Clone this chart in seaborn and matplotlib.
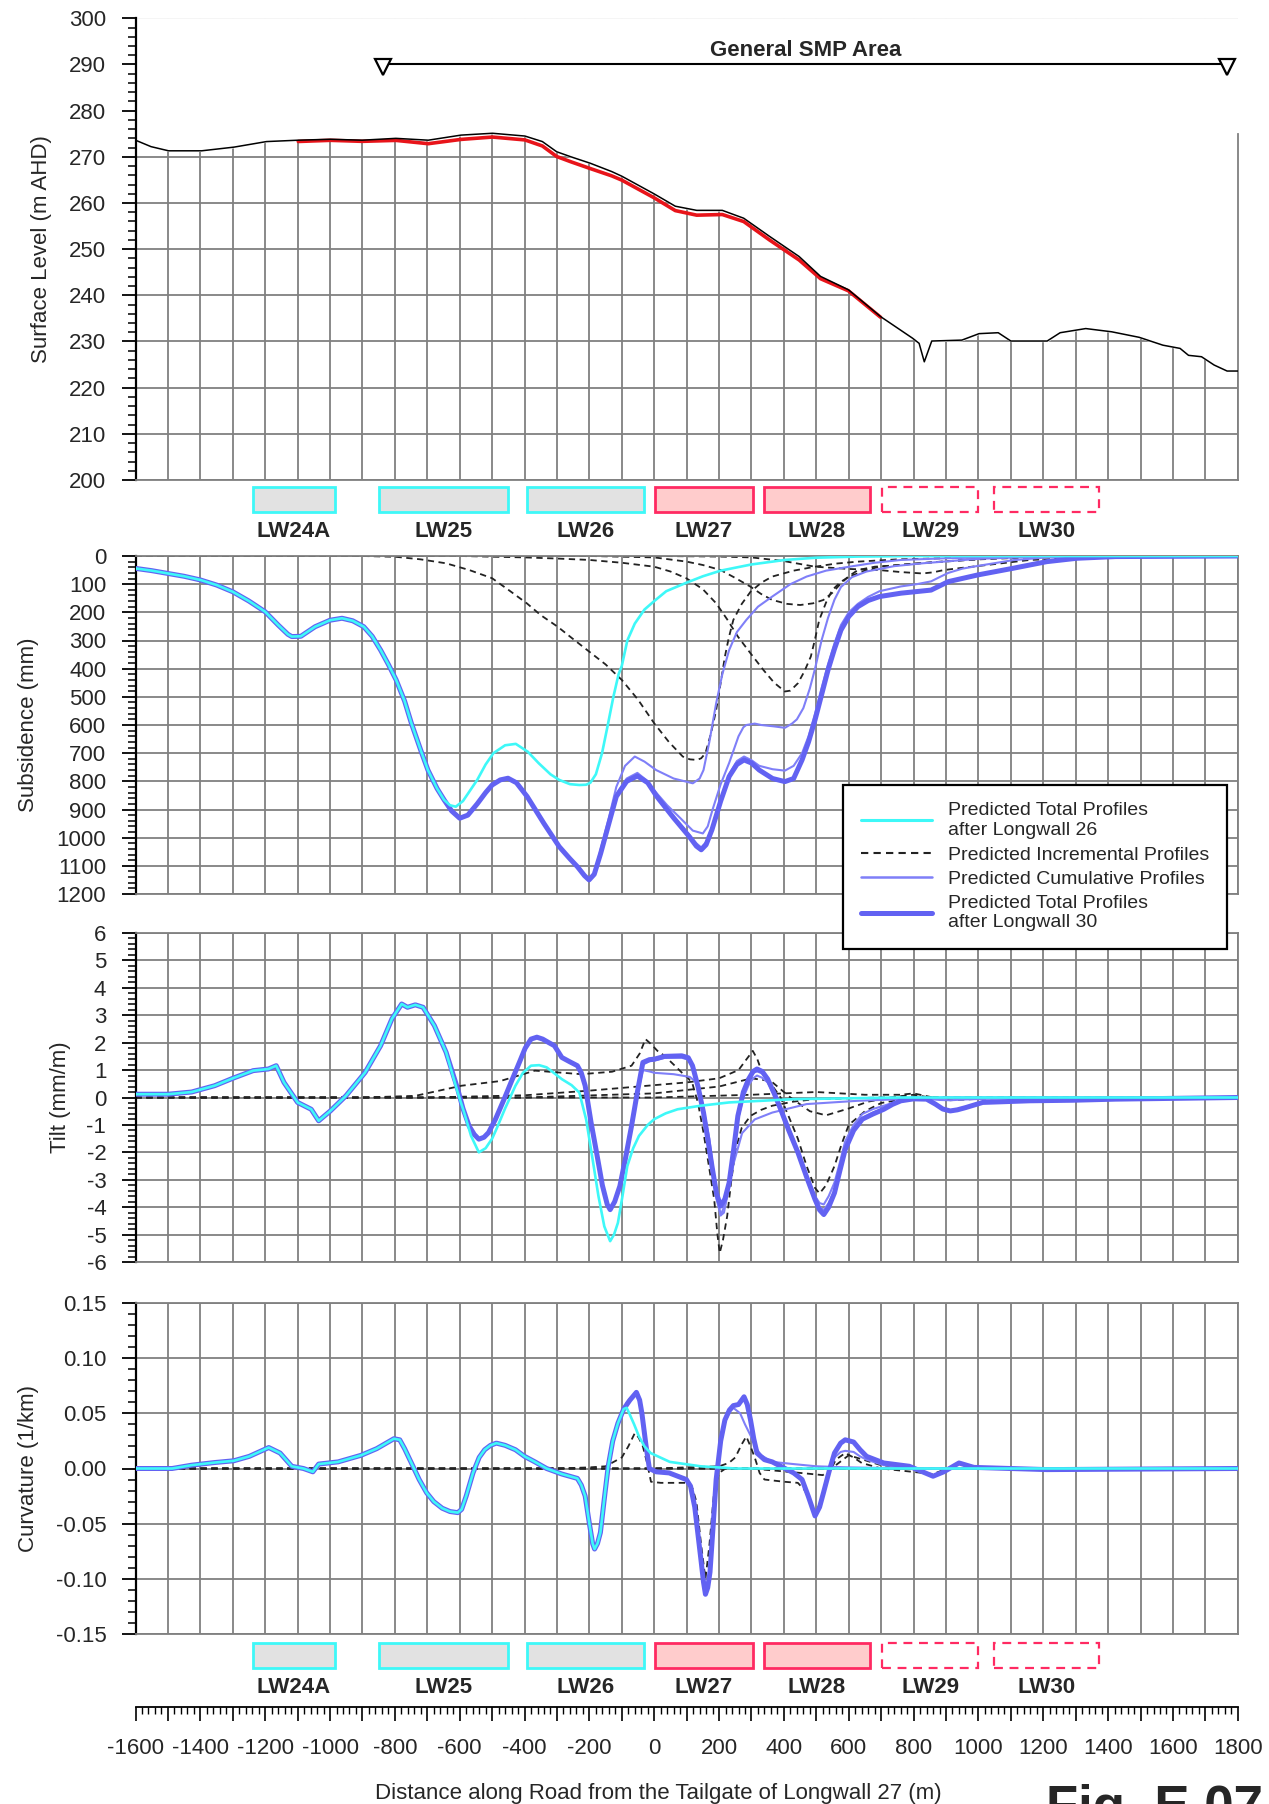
import matplotlib
matplotlib.use('Agg')
import matplotlib.pyplot as plt
import seaborn as sns
from matplotlib.patches import Rectangle
from matplotlib.lines import Line2D
from matplotlib.ticker import MultipleLocator, FuncFormatter

# ---------------- data ----------------
# surface level (m AHD)
surf_x = [-1600, -1552, -1498, -1396, -1296, -1196, -1098, -999, -901, -797, -697, -596, -499, -399, -345,
          -301, -257, -197, -131, -100, -1, 65, 131, 210, 276, 355, 447, 513, 599, 698, 797, 817, 833, 856,
          949, 1002, 1061, 1100, 1212, 1252, 1331, 1411, 1496, 1569, 1622, 1648, 1688, 1727, 1767, 1800]
surf_pre = [273.6, 272.2, 271.3, 271.3, 272.1, 273.3, 273.6, 273.8, 273.6, 274.0, 273.6, 274.7, 275.1, 274.5, 273.3,
            271.1, 270.0, 268.6, 266.8, 265.8, 262.0, 259.3, 258.4, 258.4, 256.7, 252.8, 248.4, 244.1, 241.2, 235.4,
            230.7, 229.6, 225.6, 230.1, 230.3, 231.7, 231.9, 230.1, 230.1, 231.9, 232.8, 232.1, 230.9, 229.2, 228.5,
            227.0, 226.7, 224.9, 223.6, 223.6]
surf_post_x = [-1098, -999, -901, -797, -697, -596, -499, -399, -345, -301, -257, -197, -131, -100, -1, 65, 131,
               210, 276, 355, 447, 513, 599, 698]
surf_post = [273.32, 273.57, 273.35, 273.56, 272.84, 273.77, 274.28, 273.66, 272.35, 270.07, 268.92, 267.45,
             265.87, 264.95, 261.15, 258.35, 257.36, 257.5, 255.98, 252.02, 247.65, 243.6, 240.97, 235.26]
smp_start, smp_end, smp_level = -836, 1768, 290

# longwall panels
lw_names = ['LW24A', 'LW25', 'LW26', 'LW27', 'LW28', 'LW29', 'LW30']
lw_start = [-1238, -848, -392, 2, 338, 703, 1047]
lw_end = [-986, -450, -33, 304, 664, 999, 1373]
lw_state = ['done', 'done', 'done', 'current', 'current', 'future', 'future']

# subsidence (mm); the part left of -650 m is common to all total / cumulative profiles
sub_left_x = [-1600, -1550, -1500, -1450, -1400, -1350, -1300, -1250, -1200, -1160, -1130, -1118, -1090, -1046,
              -1000, -963, -930, -896, -870, -844, -820, -796, -770, -749, -720, -698, -670]
sub_left = [44, 52, 62, 72, 85, 103, 127, 160, 198, 245, 278, 286, 285, 251, 228, 221, 230, 251, 285, 334, 385, 440,
            515, 594, 690, 760, 825]
sub_lw26_x = [-648, -630, -612, -590, -546, -520, -496, -460, -427, -390, -356, -320, -293, -260, -231, -210, -197,
              -180, -161, -145, -126, -110, -100, -83, -60, -30, 0, 37, 99, 150, 205, 300, 403, 500, 628, 800, 1800]
sub_lw26 = [866, 885, 890, 870, 795, 740, 700, 672, 667, 695, 736, 775, 795, 810, 813, 812, 805, 775, 700, 610, 500,
            420, 390, 300, 240, 190, 160, 125, 95, 72, 52, 30, 14, 6, 2, 0, 0]
sub_lw30_x = [-648, -625, -600, -575, -546, -520, -500, -475, -451, -425, -392, -340, -293, -260, -237, -215, -201,
              -185, -165, -140, -117, -85, -52, -20, 8, 60, 108, 130, 145, 160, 178, 205, 231, 255, 277, 300, 324,
              365, 403, 430, 456, 476, 496, 536, 556, 576, 600, 628, 660, 695, 761, 854, 907, 999, 1105, 1211, 1304,
              1423, 1800]
sub_lw30 = [866, 905, 931, 920, 880, 840, 813, 795, 789, 805, 854, 950, 1032, 1075, 1103, 1135, 1150, 1130, 1055,
            950, 854, 800, 781, 805, 854, 930, 996, 1030, 1043, 1025, 972, 870, 783, 740, 724, 735, 760, 790, 801,
            790, 724, 660, 582, 405, 330, 263, 215, 180, 158, 144, 132, 121, 91, 67, 44, 20, 8, 2, 0]
sub_cum27_x = [-165, -140, -117, -90, -60, -30, 6, 60, 119, 140, 152, 170, 191, 210, 231, 255, 284, 320, 364, 420,
               470, 530, 602, 680, 761, 900, 1026, 1200, 1800]
sub_cum27 = [1040, 930, 820, 745, 712, 730, 760, 790, 807, 790, 760, 660, 523, 420, 334, 270, 227, 180, 144, 100,
             73, 52, 38, 24, 14, 8, 5, 0, 0]
sub_cum28_x = [-117, -85, -52, -25, 6, 40, 80, 119, 150, 165, 180, 205, 231, 260, 275, 284, 310, 330, 370, 403,
               425, 440, 460, 480, 496, 516, 536, 556, 576, 610, 655, 740, 827, 1000, 1200, 1800]
sub_cum28 = [845, 790, 770, 795, 840, 885, 930, 975, 985, 960, 900, 810, 735, 640, 608, 600, 595, 600, 605, 610,
             595, 580, 540, 470, 400, 300, 220, 155, 110, 75, 55, 36, 26, 10, 2, 0]
sub_cum29_x = [-52, -20, 6, 60, 108, 130, 145, 160, 178, 205, 231, 255, 277, 300, 324, 365, 403, 430, 456, 476,
               496, 516, 536, 556, 576, 600, 628, 660, 695, 761, 810, 854, 880, 907, 950, 999, 1105, 1211, 1304, 1800]
sub_cum29 = [778, 805, 850, 925, 990, 1020, 1035, 1015, 965, 865, 775, 728, 712, 725, 745, 757, 762, 745, 700, 640,
             560, 470, 385, 310, 245, 200, 170, 145, 125, 108, 100, 90, 75, 60, 45, 35, 15, 5, 2, 0]
sub_inc27_x = [-1600, -900, -796, -720, -642, -570, -500, -450, -393, -350, -298, -250, -200, -150, -100, -50, 0,
               45, 88, 110, 132, 145, 158, 175, 191, 205, 218, 230, 244, 270, 297, 330, 364, 430, 496, 560, 628, 750,
               893, 1100, 1800]
sub_inc27 = [0, 0, 3, 12, 26, 50, 79, 120, 168, 210, 251, 295, 340, 385, 440, 510, 594, 660, 712, 722, 724, 718, 700,
             630, 547, 450, 357, 290, 227, 170, 127, 95, 73, 52, 38, 27, 20, 12, 8, 0, 0]
sub_inc28_x = [-1600, -600, -400, -300, -200, -100, 0, 50, 99, 150, 191, 225, 258, 300, 337, 370, 403, 420, 443,
               463, 483, 496, 509, 530, 549, 575, 602, 650, 695, 800, 893, 1000, 1158, 1300, 1800]
sub_inc28 = [0, 0, 5, 9, 14, 24, 38, 55, 79, 118, 168, 225, 286, 350, 405, 450, 481, 478, 452, 410, 357, 295, 227,
             165, 121, 92, 73, 52, 38, 27, 20, 12, 5, 0, 0]
sub_inc29_x = [-1600, -200, 0, 100, 150, 205, 250, 297, 330, 364, 410, 450, 490, 522, 550, 576, 600, 628, 680, 761,
               860, 960, 1080, 1200, 1800]
sub_inc29 = [0, 0, 5, 20, 32, 50, 78, 109, 135, 156, 170, 174, 168, 156, 130, 97, 72, 50, 38, 32, 22, 14, 6, 0, 0]
sub_inc30_x = [-1600, 0, 200, 300, 400, 496, 600, 695, 760, 827, 860, 893, 950, 1026, 1100, 1158, 1300, 1423, 1600,
               1800]
sub_inc30 = [0, 0, 2, 5, 18, 38, 46, 50, 57, 62, 58, 50, 42, 32, 22, 14, 8, 5, 1, 0]

# tilt (mm/m)
tilt_left_x = [-1600, -1499, -1427, -1356, -1300, -1237, -1190, -1166, -1142, -1100, -1058, -1035, -999, -951, -892,
               -844, -809, -779, -761, -737, -713, -678, -642]
tilt_left = [0.12, 0.12, 0.2, 0.43, 0.7, 0.98, 1.04, 1.16, 0.55, -0.18, -0.43, -0.85, -0.49, 0.06, 0.91, 1.89, 2.87,
             3.41, 3.29, 3.38, 3.29, 2.62, 1.65]
tilt_lw26_x = [-606, -585, -565, -541, -520, -500, -487, -460, -428, -405, -380, -355, -332, -310, -285, -255, -231,
               -210, -190, -172, -154, -136, -124, -112, -98, -83, -65, -47, -20, 0, 35, 72, 143, 231, 430, 761, 1800]
tilt_lw26 = [0.18, -0.6, -1.4, -2.0, -1.85, -1.5, -1.16, -0.4, 0.43, 0.9, 1.16, 1.18, 1.1, 0.9, 0.67, 0.45, 0.18,
             -0.8, -2.26, -3.6, -4.7, -5.24, -5.0, -4.57, -3.6, -2.5, -1.85, -1.4, -1.0, -0.79, -0.58, -0.43, -0.3,
             -0.18, -0.06, 0, 0]
tilt_lw30_x = [-606, -590, -571, -555, -541, -525, -511, -490, -463, -440, -416, -398, -380, -362, -344, -325, -308,
               -285, -260, -237, -225, -213, -195, -178, -160, -145, -136, -122, -106, -90, -70, -52, -35, -15, 1, 32,
               85, 105, 118, 135, 152, 165, 178, 192, 205, 218, 231, 245, 258, 275, 291, 305, 317, 333, 350, 370, 390,
               415, 443, 470, 496, 510, 523, 538, 556, 572, 589, 615, 642, 675, 708, 735, 761, 800, 840, 867, 890,
               913, 935, 960, 1013, 1158, 1291, 1423, 1800]
tilt_lw30 = [0.3, -0.4, -1.04, -1.35, -1.52, -1.45, -1.28, -0.8, -0.06, 0.6, 1.28, 1.8, 2.13, 2.2, 2.13, 2.0, 1.89,
             1.46, 1.3, 1.16, 0.9, 0.43, -0.9, -2.0, -3.2, -3.9, -4.09, -3.8, -3.23, -2.3, -1.04, 0.2, 1.28, 1.38,
             1.4, 1.5, 1.52, 1.45, 1.16, 0.4, -0.55, -1.5, -2.5, -3.5, -3.96, -3.7, -3.11, -1.9, -0.67, 0.2, 0.67,
             0.95, 1.04, 0.95, 0.67, 0.15, -0.43, -1.2, -2.0, -2.9, -3.72, -4.1, -4.27, -4.0, -3.48, -2.7, -1.9, -1.2,
             -0.79, -0.6, -0.43, -0.25, -0.12, -0.05, -0.06, -0.24, -0.42, -0.49, -0.45, -0.37, -0.18, -0.12, -0.1,
             -0.06, 0]
tilt_cum27_x = [-70, -52, -35, -15, 1, 60, 110, 130, 150, 170, 188, 205, 215, 225, 245, 271, 310, 364, 470, 628, 900,
                1800]
tilt_cum27 = [-1.1, 0.1, 1.0, 0.95, 0.9, 0.85, 0.75, 0.55, -0.3, -1.5, -3.2, -4.3, -4.2, -3.6, -2.4, -1.3, -0.8,
              -0.55, -0.24, -0.12, 0, 0]
tilt_cum28_x = [-35, -15, 1, 32, 85, 105, 118, 135, 152, 165, 178, 192, 205, 218, 231, 245, 258, 275, 291, 305, 317,
                333, 350, 370, 390, 415, 443, 470, 496, 510, 523, 538, 556, 572, 589, 615, 642, 675, 708, 761, 900,
                1800]
tilt_cum28 = [1.2, 1.32, 1.35, 1.45, 1.45, 1.38, 1.1, 0.3, -0.6, -1.6, -2.6, -3.7, -4.3, -3.9, -3.3, -2.0, -0.8,
              0.0, 0.45, 0.7, 0.8, 0.72, 0.55, 0.1, -0.35, -1.1, -1.9, -2.8, -3.6, -3.85, -3.9, -3.6, -3.1, -2.4, -1.6,
              -1.0, -0.6, -0.42, -0.3, -0.1, 0, 0]
tilt_cum29_x = [305, 317, 333, 350, 370, 390, 415, 443, 470, 496, 510, 523, 538, 556, 572, 589, 615, 642, 675, 708,
                761, 800, 840, 880, 913, 960, 1013, 1200, 1800]
tilt_cum29 = [0.9, 0.95, 0.88, 0.62, 0.1, -0.45, -1.2, -2.0, -2.9, -3.75, -4.0, -4.1, -3.85, -3.4, -2.6, -1.85,
              -1.15, -0.75, -0.55, -0.4, -0.12, -0.05, -0.05, -0.09, -0.1, -0.07, -0.05, -0.02, 0]
tilt_inc27_x = [-1600, -900, -737, -594, -475, -368, -225, -130, -70, -45, -27, -10, 10, 32, 60, 85, 105, 118, 135,
                152, 170, 185, 195, 202, 212, 225, 238, 251, 270, 297, 330, 364, 430, 496, 700, 1800]
tilt_inc27 = [0, 0, 0.06, 0.43, 0.6, 0.98, 0.85, 0.94, 1.16, 1.6, 2.13, 1.95, 1.7, 1.52, 1.2, 0.91, 0.7, 0.5, -0.2,
              -1.28, -2.6, -3.72, -5.0, -5.67, -5.2, -4.33, -3.0, -1.9, -1.1, -0.67, -0.45, -0.3, -0.15, -0.06, 0, 0]
tilt_inc28_x = [-1600, -700, -400, -200, -100, 0, 100, 200, 260, 285, 304, 318, 330, 360, 390, 415, 443, 470, 496,
                510, 530, 556, 578, 600, 650, 700, 800, 1800]
tilt_inc28 = [0, 0, 0.08, 0.25, 0.35, 0.45, 0.55, 0.7, 1.0, 1.4, 1.7, 1.4, 1.0, 0.5, 0.0, -0.7, -1.5, -2.5, -3.3,
              -3.5, -3.2, -2.5, -1.7, -1.0, -0.5, -0.2, 0, 0]
tilt_inc29_x = [-1600, -400, 0, 200, 300, 360, 420, 480, 530, 600, 660, 760, 800, 850, 1000, 1800]
tilt_inc29 = [0, 0, 0.15, 0.4, 0.7, 0.6, 0.0, -0.5, -0.65, -0.4, -0.15, 0.05, 0.1, 0.0, 0, 0]
tilt_inc30_x = [-1600, 0, 300, 500, 650, 760, 800, 860, 913, 1000, 1100, 1800]
tilt_inc30 = [0, 0, 0.1, 0.2, 0.1, 0.1, 0.15, 0.0, -0.1, -0.05, 0, 0]

# curvature (1/km)
curv_left_x = [-1600, -1487, -1427, -1356, -1297, -1249, -1189, -1154, -1118, -1082, -1053, -1035, -975, -904, -856,
               -803, -785, -770, -749, -725, -702, -680, -654, -630, -606, -594, -580, -559, -540, -523, -505, -487,
               -460, -428, -400, -368, -332, -285, -237, -225, -213, -200, -190, -184, -175, -166, -155, -142, -128,
               -112, -94]
curv_left = [0, 0, 0.003, 0.0054, 0.007, 0.011, 0.019, 0.014, 0.002, 0, -0.003, 0.004, 0.006, 0.012, 0.018, 0.027,
             0.026, 0.018, 0.005, -0.01, -0.022, -0.03, -0.036, -0.039, -0.04, -0.037, -0.025, -0.004, 0.01, 0.017,
             0.021, 0.023, 0.021, 0.017, 0.011, 0.006, 0, -0.005, -0.009, -0.015, -0.025, -0.05, -0.068, -0.073,
             -0.068, -0.058, -0.03, 0.002, 0.025, 0.041, 0.054]
curv_lw26_x = [-85, -77, -62, -47, -30, -11, 48, 143, 250, 1800]
curv_lw26 = [0.055, 0.05, 0.04, 0.029, 0.02, 0.014, 0.006, 0.002, 0.0, 0]
curv_lw30_x = [-75, -55, -45, -38, -25, -15, 6, 46, 99, 112, 125, 135, 145, 152, 158, 165, 172, 181, 191, 205, 218,
               232, 244, 260, 277, 287, 297, 307, 317, 340, 364, 430, 456, 475, 496, 510, 522, 540, 556, 575, 589, 615,
               635, 655, 708, 787, 860, 893, 940, 986, 1211, 1800]
curv_lw30 = [0.062, 0.069, 0.062, 0.05, 0.02, 0.0, -0.003, -0.004, -0.01, -0.016, -0.035, -0.06, -0.085, -0.103,
             -0.114, -0.108, -0.094, -0.055, -0.01, 0.025, 0.044, 0.053, 0.057, 0.058, 0.065, 0.058, 0.044, 0.027,
             0.014, 0.008, 0.006, -0.004, -0.01, -0.025, -0.043, -0.035, -0.022, -0.002, 0.014, 0.023, 0.026, 0.024,
             0.017, 0.011, 0.005, 0.002, -0.007, -0.003, 0.005, 0.001, -0.001, 0]
curv_cum27_x = [-85, -70, -55, -45, -38, -25, -15, 6, 46, 99, 112, 125, 135, 145, 152, 158, 165, 172, 181, 191, 205,
                218, 232, 244, 265, 280, 297, 315, 330, 364, 430, 500, 600, 800, 1800]
curv_cum27 = [0.06, 0.065, 0.066, 0.06, 0.05, 0.02, 0.0, -0.003, -0.004, -0.01, -0.016, -0.035, -0.06, -0.085, -0.1,
              -0.108, -0.103, -0.09, -0.052, -0.01, 0.022, 0.042, 0.051, 0.055, 0.05, 0.04, 0.03, 0.018, 0.012, 0.006,
              0.004, 0.002, 0.001, 0, 0]
curv_cum28_x = [522, 540, 556, 575, 589, 615, 635, 655, 708, 800, 1800]
curv_cum28 = [-0.02, 0.0, 0.01, 0.015, 0.016, 0.015, 0.011, 0.008, 0.003, 0, 0]
curv_inc27_x = [-1600, -300, -200, -150, -100, -80, -60, -48, -35, -22, -10, 20, 100, 118, 130, 145, 158, 170, 185,
                200, 220, 300, 1800]
curv_inc27 = [0, 0, 0.001, 0.002, 0.01, 0.02, 0.032, 0.028, 0.02, 0.005, -0.012, -0.013, -0.013, -0.018, -0.03,
              -0.07, -0.1, -0.07, -0.02, -0.004, 0, 0, 0]
curv_inc28_x = [-1600, 0, 200, 230, 250, 270, 284, 297, 310, 325, 340, 400, 443, 465, 480, 490, 500, 515, 530, 560,
                589, 615, 640, 700, 1800]
curv_inc28 = [0, 0, 0.002, 0.005, 0.01, 0.022, 0.029, 0.02, 0.01, -0.004, -0.01, -0.012, -0.013, -0.02, -0.03,
              -0.037, -0.04, -0.028, -0.01, 0.008, 0.014, 0.01, 0.005, 0, 0]
curv_inc29_x = [-1600, 300, 450, 520, 600, 700, 800, 1800]
curv_inc29 = [0, 0, -0.004, -0.006, 0.012, 0.003, 0, 0]
curv_inc30_x = [-1600, 700, 860, 940, 1000, 1800]
curv_inc30 = [0, 0, -0.005, 0.004, 0, 0]

# ---------------- styling ----------------
sns.set_theme(style='white')
plt.rcParams['font.family'] = ['Liberation Sans', 'DejaVu Sans']
plt.rcParams['axes.unicode_minus'] = False

GRID = '#808080'
CYAN = '#3ef8f8'
CUM = '#7f7ff8'
TOTAL = '#6262f2'
DASH = '#222222'
FS = 16

W_PX, H_PX = 1269, 1804
fig = plt.figure(figsize=(W_PX / 100, H_PX / 100), dpi=100)


def rect(top, bottom):
    return [135.5 / W_PX, 1 - bottom / H_PX, (1237.8 - 135.5) / W_PX, (bottom - top) / H_PX]


def draw(ax, xs, ys, **kw):
    sns.lineplot(x=xs, y=ys, ax=ax, estimator=None, sort=False, legend=False, **kw)


def join(base_x, base_y, tail_x, tail_y):
    # a profile that follows base_x/base_y until its own readings start
    keep = [i for i, x in enumerate(base_x) if x < tail_x[0]]
    return [base_x[i] for i in keep] + list(tail_x), [base_y[i] for i in keep] + list(tail_y)


def style_panel(ax, ymin, ymax, major, minor, label, label_x, fmt=None):
    ax.set_xlim(-1600, 1800)
    ax.set_ylim(ymin, ymax)
    ax.xaxis.set_major_locator(MultipleLocator(100))
    ax.yaxis.set_major_locator(MultipleLocator(major))
    ax.yaxis.set_minor_locator(MultipleLocator(minor))
    if fmt is not None:
        ax.yaxis.set_major_formatter(FuncFormatter(fmt))
    ax.tick_params(axis='x', length=0, labelbottom=False)
    ax.tick_params(axis='y', which='major', direction='out', length=10, width=1.3, color='black',
                   labelsize=FS, pad=11, left=True)
    ax.tick_params(axis='y', which='minor', direction='out', length=5.5, width=1.1, color='black', left=True)
    ax.grid(True, which='major', color=GRID, lw=1.3)
    ax.set_axisbelow(True)
    for s in ['top', 'right', 'bottom']:
        ax.spines[s].set_color(GRID)
        ax.spines[s].set_linewidth(1.3)
    ax.spines['left'].set_color('black')
    ax.spines['left'].set_linewidth(1.6)
    ax.set_xlabel('')
    ax.set_ylabel(label, fontsize=FS, va='center')
    ax.yaxis.set_label_coords(label_x, 0.5)


def profiles(ax, left_x, left_v, d):
    dash = dict(color=DASH, lw=1.3, linestyle=(0, (3.5, 2.5)), zorder=2)
    for xs, ys in d['inc']:
        draw(ax, xs, ys, **dash)
    tot_x, tot_y = left_x + d['total'][0], left_v + d['total'][1]
    for xs, ys in d['cum']:
        cx, cy = join(tot_x, tot_y, xs, ys)
        draw(ax, cx, cy, color=CUM, lw=1.5, zorder=3)
    draw(ax, tot_x, tot_y, color=TOTAL, lw=3.6, zorder=4)
    cx, cy = join(tot_x, tot_y, *d['lw26'])
    draw(ax, cx, cy, color=CYAN, lw=1.9, zorder=5)


# ---------------- surface level ----------------
ax1 = fig.add_axes(rect(18.3, 480))
style_panel(ax1, 200, 300, 10, 2, 'Surface Level (m AHD)', -0.085)
ax1.fill_between(surf_x, surf_pre, 300, color='white', zorder=1)
draw(ax1, surf_post_x, surf_post, color='#e8141a', lw=2.6, zorder=3)
draw(ax1, surf_x, surf_pre, color='black', lw=1.1, zorder=4)
ax1.spines['top'].set_visible(False)
ax1.spines['right'].set_bounds(200, 275)
ax1.set_xlabel('')
ax1.set_ylabel('Surface Level (m AHD)', fontsize=FS, va='center')
ax1.yaxis.set_label_coords(-0.085, 0.5)
ax1.plot([smp_start, smp_end], [smp_level, smp_level], color='black', lw=1.5, zorder=5)
ax1.plot([smp_start, smp_end], [smp_level - 0.6, smp_level - 0.6], ls='none', marker='v', ms=12, mfc='white',
         mec='black', mew=1.6, zorder=6)
ax1.text((smp_start + smp_end) / 2, smp_level + 0.8, 'General SMP Area', ha='center', va='bottom',
         fontsize=FS, fontweight='bold', zorder=6)


# ---------------- longwall panel rows ----------------
def lw_row(top, bottom):
    ax = fig.add_axes(rect(top, bottom))
    ax.set_xlim(-1600, 1800)
    ax.set_ylim(0, 1)
    ax.axis('off')
    for name, x0, x1, st in zip(lw_names, lw_start, lw_end, lw_state):
        if st == 'done':
            kw = dict(facecolor='#e2e2e2', edgecolor='#3ef8f8', lw=2.0)
        elif st == 'current':
            kw = dict(facecolor='#ffcccc', edgecolor='#ff2a62', lw=2.0)
        else:
            kw = dict(facecolor='white', edgecolor='#ff2a62', lw=1.6, linestyle=(0, (4, 3)))
        ax.add_patch(Rectangle((x0, 0.55), x1 - x0, 0.37, **kw))
        ax.text((x0 + x1) / 2, 0.25, name, ha='center', va='center', fontsize=FS, fontweight='bold')


lw_row(482, 548)

# ---------------- subsidence ----------------
ax2 = fig.add_axes(rect(556, 894))
profiles(ax2, sub_left_x, sub_left, {
    'inc': [(sub_inc27_x, sub_inc27), (sub_inc28_x, sub_inc28), (sub_inc29_x, sub_inc29), (sub_inc30_x, sub_inc30)],
    'cum': [(sub_cum27_x, sub_cum27), (sub_cum28_x, sub_cum28), (sub_cum29_x, sub_cum29)],
    'total': (sub_lw30_x, sub_lw30),
    'lw26': (sub_lw26_x, sub_lw26),
})
style_panel(ax2, 1200, 0, 100, 20, 'Subsidence (mm)', -0.097)

# ---------------- tilt ----------------
ax3 = fig.add_axes(rect(933, 1262))
profiles(ax3, tilt_left_x, tilt_left, {
    'inc': [(tilt_inc27_x, tilt_inc27), (tilt_inc28_x, tilt_inc28), (tilt_inc29_x, tilt_inc29),
            (tilt_inc30_x, tilt_inc30)],
    'cum': [(tilt_cum27_x, tilt_cum27), (tilt_cum28_x, tilt_cum28), (tilt_cum29_x, tilt_cum29)],
    'total': (tilt_lw30_x, tilt_lw30),
    'lw26': (tilt_lw26_x, tilt_lw26),
})
style_panel(ax3, -6, 6, 1, 0.2, 'Tilt (mm/m)', -0.068, fmt=lambda v, p: f'{int(round(v))}')

# ---------------- curvature ----------------
ax4 = fig.add_axes(rect(1303, 1634))
profiles(ax4, curv_left_x, curv_left, {
    'inc': [(curv_inc27_x, curv_inc27), (curv_inc28_x, curv_inc28), (curv_inc29_x, curv_inc29),
            (curv_inc30_x, curv_inc30)],
    'cum': [(curv_cum27_x, curv_cum27), (curv_cum28_x, curv_cum28)],
    'total': (curv_lw30_x, curv_lw30),
    'lw26': (curv_lw26_x, curv_lw26),
})
style_panel(ax4, -0.15, 0.15, 0.05, 0.01, 'Curvature (1/km)', -0.097, fmt=lambda v, p: f'{v:.2f}')

lw_row(1638, 1704)

# ---------------- distance ruler ----------------
axr = fig.add_axes([135.5 / W_PX, 1 - 1707 / H_PX, (1237.8 - 135.5) / W_PX, 0.0001])
axr.set_xlim(-1600, 1800)
axr.set_yticks([])
for s in ['top', 'left', 'right']:
    axr.spines[s].set_visible(False)
axr.spines['bottom'].set_color('black')
axr.spines['bottom'].set_linewidth(1.3)
axr.xaxis.set_major_locator(MultipleLocator(100))
axr.xaxis.set_minor_locator(MultipleLocator(20))
axr.xaxis.set_major_formatter(FuncFormatter(lambda v, p: f'{int(round(v))}' if round(v) % 200 == 0 else ''))
axr.tick_params(axis='x', which='major', direction='out', length=10, width=1.2, color='black', labelsize=FS,
                pad=12, bottom=True)
axr.tick_params(axis='x', which='minor', direction='out', length=5, width=1.0, color='black', bottom=True)

fig.text(658 / W_PX, 1 - 1793 / H_PX, 'Distance along Road from the Tailgate of Longwall 27 (m)', ha='center',
         va='center', fontsize=FS)
fig.text(1046 / W_PX, 1 - 1784 / H_PX, 'Fig. E.07', ha='left', va='top', fontsize=38, fontweight='bold')

# ---------------- legend ----------------
handles = [
    Line2D([], [], color=CYAN, lw=2.2),
    Line2D([], [], color=DASH, lw=1.5, linestyle=(0, (3.5, 2.5))),
    Line2D([], [], color=CUM, lw=1.8),
    Line2D([], [], color=TOTAL, lw=3.6),
]
labels = ['Predicted Total Profiles\nafter Longwall 26', 'Predicted Incremental Profiles',
          'Predicted Cumulative Profiles', 'Predicted Total Profiles\nafter Longwall 30']
leg = fig.legend(handles, labels, loc='upper left', bbox_to_anchor=(843 / W_PX, 1 - 785 / H_PX),
                 frameon=True, fancybox=False, framealpha=1, edgecolor='black', fontsize=14,
                 handlelength=3.7, handletextpad=0.8, borderpad=0.9, labelspacing=0.35, borderaxespad=0)
leg.get_frame().set_linewidth(1.6)
leg.set_zorder(20)

fig.savefig('out.png', dpi=100)
